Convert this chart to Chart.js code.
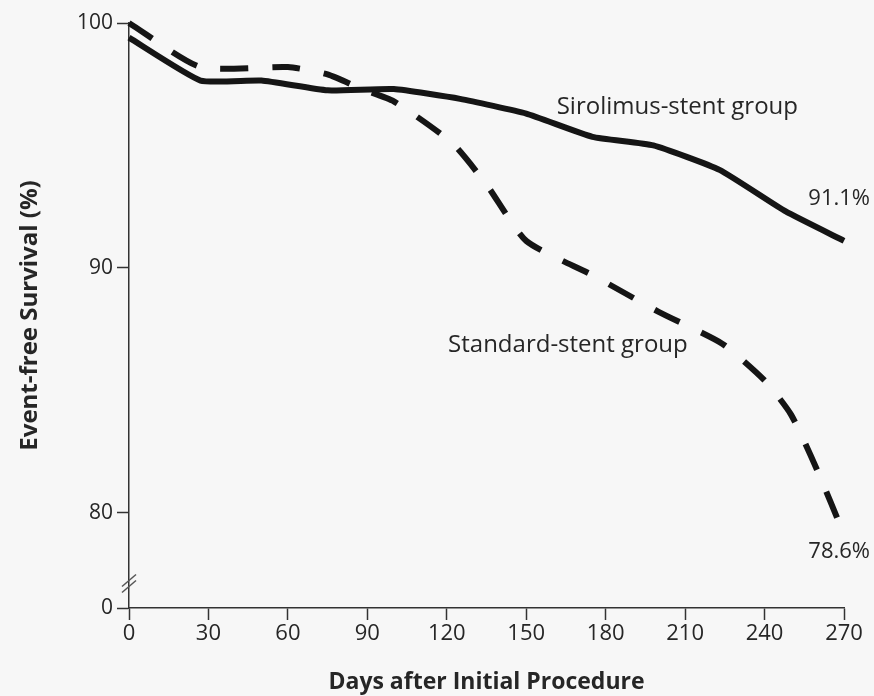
<!DOCTYPE html>
<html>
<head>
<meta charset="utf-8">
<script src="https://cdn.jsdelivr.net/npm/chart.js@4"></script>
<style>
  html, body { margin: 0; padding: 0; background: #f7f7f7; }
  #wrap { width: 874px; height: 696px; position: relative; }
</style>
</head>
<body>
<div id="wrap"><canvas id="c" width="874" height="696"></canvas></div>
<script>
// ---- data ----
const xTicks = [0, 30, 60, 90, 120, 150, 180, 210, 240, 270];
const yTicks = [80, 90, 100];
const yBreakValue = 76.1;          // bottom of broken axis, labelled "0"
const yBreakLabel = '0';

const sirolimusDays     = [0, 27, 50, 75, 100, 125, 150, 175, 198, 223, 248, 270];
const sirolimusSurvival = [99.4, 97.65, 97.65, 97.25, 97.3, 96.9, 96.3, 95.35, 95.0, 94.0, 92.3, 91.1];

const standardDays      = [0, 27, 60, 75, 88, 100, 122, 135, 150, 175, 200, 224, 240, 250, 260, 270];
const standardSurvival  = [100, 98.2, 98.2, 97.9, 97.3, 96.8, 95.1, 93.4, 91.1, 89.7, 88.2, 86.9, 85.4, 84.0, 81.7, 79.1];

const seriesNames = ['Sirolimus-stent group', 'Standard-stent group'];
const endLabels = ['91.1%', '78.6%'];

// ---- chart ----
const FONT = '"Open Sans", "Noto Sans", sans-serif';
const toPts = (xs, ys) => xs.map((x, i) => ({ x: x, y: ys[i] }));

const annotations = {
  id: 'annotations',
  afterDraw(chart) {
    const ctx = chart.ctx;
    const xs = chart.scales.x, ys = chart.scales.y;
    const area = chart.chartArea;
    ctx.save();
    ctx.fillStyle = '#262626';
    ctx.font = '24px ' + FONT;
    ctx.textBaseline = 'middle';
    ctx.textAlign = 'left';
    ctx.fillText(seriesNames[0], xs.getPixelForValue(161.5), ys.getPixelForValue(96.55));
    ctx.fillText(seriesNames[1], xs.getPixelForValue(120.5), ys.getPixelForValue(86.85));
    ctx.font = '22px ' + FONT;
    ctx.textAlign = 'right';
    ctx.fillText(endLabels[0], area.right + 26, ys.getPixelForValue(92.8));
    ctx.fillText(endLabels[1], area.right + 26, ys.getPixelForValue(78.4));
    // axis break marks
    const bx = area.left, by = ys.getPixelForValue(77.1);
    ctx.strokeStyle = '#555';
    ctx.lineWidth = 1.5;
    [-3, 3].forEach(off => {
      ctx.beginPath();
      ctx.moveTo(bx - 7, by + off + 6);
      ctx.lineTo(bx + 7, by + off - 6);
      ctx.stroke();
    });
    ctx.restore();
  }
};

new Chart(document.getElementById('c'), {
  type: 'line',
  data: {
    datasets: [
      {
        label: seriesNames[0],
        data: toPts(sirolimusDays, sirolimusSurvival),
        borderColor: '#151515',
        borderWidth: 6,
        pointRadius: 0,
        tension: 0.15,
        borderJoinStyle: 'round',
        clip: false,
        fill: false
      },
      {
        label: seriesNames[1],
        data: toPts(standardDays, standardSurvival),
        borderColor: '#151515',
        borderWidth: 6,
        borderDash: [28, 24],
        borderCapStyle: 'butt',
        pointRadius: 0,
        tension: 0.2,
        clip: false,
        fill: false
      }
    ]
  },
  options: {
    responsive: false,
    animation: false,
    layout: { padding: { top: 23, right: 30, left: 0, bottom: 0 } },
    plugins: { legend: { display: false }, tooltip: { enabled: false } },
    scales: {
      x: {
        type: 'linear',
        min: 0, max: 270,
        afterBuildTicks: s => { s.ticks = xTicks.map(v => ({ value: v })); },
        afterFit: s => { s.height = 88; },
        grid: { drawOnChartArea: false, drawTicks: true, tickLength: 12, tickColor: '#333', tickWidth: 1.5 },
        border: { display: true, color: '#333', width: 1.5 },
        ticks: { color: '#262626', font: { family: FONT, size: 22 }, padding: 1, maxRotation: 0 },
        title: { display: true, text: 'Days after Initial Procedure', color: '#262626',
                 font: { family: FONT, size: 23, weight: 'bold' }, padding: { top: 0, bottom: 0 } }
      },
      y: {
        type: 'linear',
        min: yBreakValue, max: 100,
        afterBuildTicks: s => { s.ticks = [yBreakValue].concat(yTicks).map(v => ({ value: v })); },
        afterFit: s => { s.width = 129; },
        grid: { drawOnChartArea: false, drawTicks: true, tickLength: 12, tickColor: '#333', tickWidth: 1.5 },
        border: { display: true, color: '#333', width: 1.5 },
        ticks: { color: '#262626', font: { family: FONT, size: 21 }, padding: 4,
                 callback: v => (v === yBreakValue ? yBreakLabel : String(v)) },
        title: { display: true, text: 'Event-free Survival (%)', color: '#262626',
                 font: { family: FONT, size: 24, weight: 'bold' }, padding: { top: 16, bottom: 0 } }
      }
    }
  },
  plugins: [annotations]
});
</script>
</body>
</html>
